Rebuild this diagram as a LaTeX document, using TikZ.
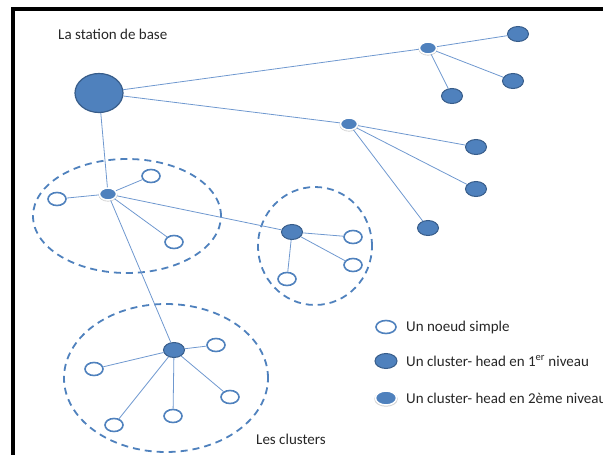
\documentclass[tikz,border=0pt]{standalone}
\usepackage{fontspec}
\setmainfont{Carlito}
\usetikzlibrary{shapes.geometric,shadows}
\definecolor{nodeblue}{HTML}{4F81BD}
\definecolor{headrim}{HTML}{385D8A}
\definecolor{linkblue}{HTML}{6F98CF}
\begin{document}
\begin{tikzpicture}[x=1pt, y=-1pt,
  simple/.style={ellipse, draw=nodeblue, fill=white, line width=1.6pt, minimum width=18pt, minimum height=13pt, inner sep=0pt},
  head/.style={ellipse, draw=headrim, fill=nodeblue, line width=1pt, minimum width=21pt, minimum height=15pt, inner sep=0pt},
  subhead/.style={ellipse, draw=white, fill=nodeblue, line width=1.5pt, minimum width=17pt, minimum height=12pt, inner sep=0pt,
    drop shadow={shadow xshift=0pt, shadow yshift=-0.8pt, shadow scale=1.12, opacity=0.35, fill=gray}},
  link/.style={draw=linkblue, line width=0.8pt},
  cluster/.style={ellipse, draw=nodeblue, line width=1.8pt, dash pattern=on 7pt off 5pt, inner sep=0pt},
  label/.style={font=\fontsize{15}{18}\selectfont, anchor=west, text=black!85, inner sep=0pt}]
  \useasboundingbox (0, 0) rectangle (603, 455);
  \clip (0, 0) rectangle (603, 455);
  \draw[line width=4pt, miter limit=4] (13, 460) -- (13, 9) -- (608, 9);
  % clusters
  \node[cluster, minimum width=188pt, minimum height=114pt] (c1) at (127, 216) {};
  \node[cluster, minimum width=114pt, minimum height=118pt] (c2) at (315, 246) {};
  \node[cluster, minimum width=204pt, minimum height=148pt] (c3) at (166, 378) {};
  % base station and heads
  \node[head, minimum width=48pt, minimum height=39pt, line width=1.2pt] (bs) at (99, 93) {};
  \node[label] (tbs) at (58, 34) {La station de base};
  \node[subhead] (s2a) at (428, 48) {};
  \node[subhead] (s2b) at (349, 124) {};
  \node[subhead] (s2c) at (108, 194) {};
  \node[head] (h1) at (518, 34) {};
  \node[head] (h2) at (513, 81) {};
  \node[head] (h3) at (452, 96) {};
  \node[head] (h4) at (476, 147) {};
  \node[head] (h5) at (476, 189) {};
  \node[head] (h6) at (428, 228) {};
  \node[head] (ch2) at (292, 232) {};
  \node[head] (ch3) at (174, 350) {};
  % simple nodes
  \node[simple] (n1) at (57, 199) {};
  \node[simple] (n2) at (151, 176) {};
  \node[simple] (n3) at (174, 242) {};
  \node[simple] (n4) at (353, 237) {};
  \node[simple] (n5) at (353, 265) {};
  \node[simple] (n6) at (287, 279) {};
  \node[simple] (n7) at (216, 345) {};
  \node[simple] (n8) at (94, 369) {};
  \node[simple] (n9) at (230, 397) {};
  \node[simple] (n10) at (173, 416) {};
  \node[simple] (n11) at (114, 425) {};
  % links
  \draw[link] (bs) -- (s2a) (bs) -- (s2b) (bs) -- (s2c);
  \draw[link] (s2a) -- (h1) (s2a) -- (h2) (s2a) -- (h3);
  \draw[link] (s2b) -- (h4) (s2b) -- (h5) (s2b) -- (h6);
  \draw[link] (s2c) -- (n1) (s2c) -- (n2) (s2c) -- (n3) (s2c) -- (ch2) (s2c) -- (ch3);
  \draw[link] (ch2) -- (n4) (ch2) -- (n5) (ch2) -- (n6);
  \draw[link] (ch3) -- (n7) (ch3) -- (n8) (ch3) -- (n9) (ch3) -- (n10) (ch3) -- (n11);
  \node[label] (tclusters) at (256, 439) {Les clusters};
  % legend
  \node[simple, minimum width=20pt] (ksimple) at (386, 327) {};
  \node[label] (tsimple) at (406, 327) {Un noeud simple};
  \node[head, minimum width=22pt] (khead) at (386, 361) {};
  \node[label] (thead) at (406, 361) {Un cluster- head en 1\textsuperscript{er} niveau};
  \node[subhead, minimum width=21pt, minimum height=14pt] (ksub) at (386, 398) {};
  \node[label] (tsub) at (406, 398) {Un cluster- head en 2ème niveau};
\end{tikzpicture}
\end{document}
